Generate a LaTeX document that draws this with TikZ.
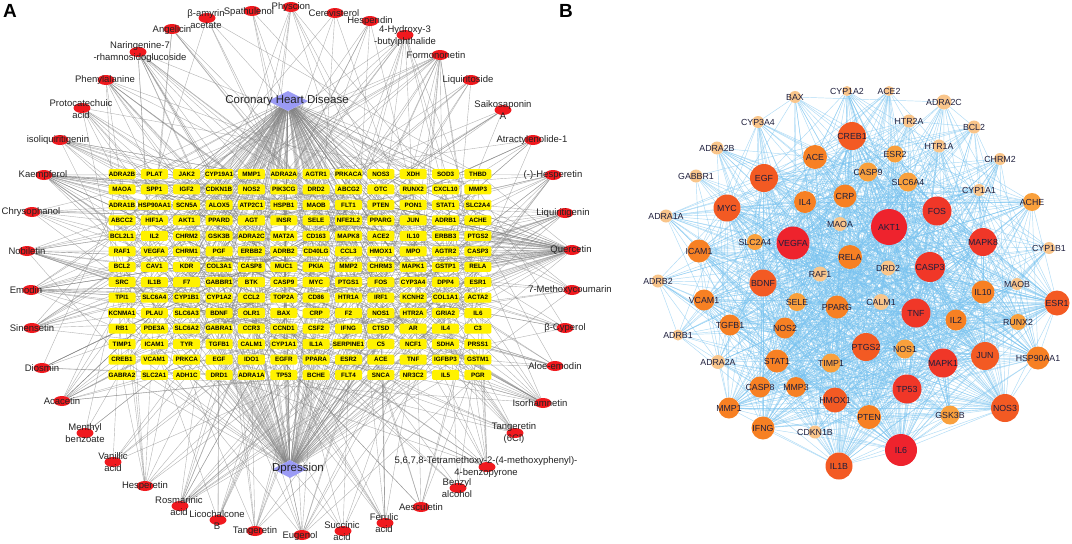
\documentclass[tikz,border=0pt]{standalone}
\usepackage{fontspec}
\setmainfont{Liberation Sans}
\usetikzlibrary{shapes.geometric}
\pgfdeclarelayer{bg}
\pgfdeclarelayer{edgelayer}
\pgfsetlayers{bg,edgelayer,main}
\definecolor{dgnblue}{RGB}{155,155,245}
\definecolor{cmpred}{RGB}{240,25,30}
\definecolor{agray}{RGB}{130,130,130}
\definecolor{bblue}{RGB}{120,195,240}
\definecolor{bcol1}{RGB}{249,197,138}
\definecolor{bcol2}{RGB}{249,160,60}
\definecolor{bcol3}{RGB}{247,128,35}
\definecolor{bcol4}{RGB}{243,90,35}
\definecolor{bcol5}{RGB}{240,55,40}
\definecolor{bcol6}{RGB}{238,35,45}
\definecolor{labtxt}{RGB}{35,35,35}
\definecolor{blabtxt}{RGB}{30,30,60}
\newcommand\cmpd[6]{%
  \node[cmp] (#1) at (#2,#3) {};
  \node[clab] (#1l) at (#4,#5) {#6};}
\begin{document}
\begin{tikzpicture}[x=1pt,y=-1pt,
  tbox/.style={rectangle, rounded corners=1.5pt, fill=yellow, minimum width=27pt, minimum height=10pt, inner sep=0.3pt, font=\bfseries\fontsize{6.3}{6.3}\selectfont, text=black},
  cmp/.style={ellipse, fill=cmpred, minimum width=17pt, minimum height=10pt, inner sep=0pt},
  clab/.style={font=\fontsize{9.5}{12.5}\selectfont, text=labtxt, align=center, inner sep=0pt},
  dia/.style={diamond, fill=dgnblue, inner sep=0pt},
  dlab/.style={font=\fontsize{11.5}{12}\selectfont, text=labtxt, inner sep=0pt},
  plab/.style={font=\bfseries\fontsize{19}{19}\selectfont, inner sep=0pt},
  aedge/.style={draw=agray, line width=0.4pt, opacity=0.6},
  bedge/.style={draw=bblue, line width=0.45pt, opacity=0.6},
  bnode/.style={circle, inner sep=0pt},
  blab/.style={font=\fontsize{8.8}{9}\selectfont, text=blabtxt, inner sep=0pt}]
\useasboundingbox (0,0) rectangle (1072,544);
\begin{pgfonlayer}{bg}
\fill[white] (0,0) rectangle (1072,544);
\end{pgfonlayer}

\node[plab] (pA) at (10,11) {A};
\node[plab] (pB) at (566,11) {B};

% ---------- Panel A: targets grid ----------
\foreach \row [count=\r] in {%
{ADRA2B,PLAT,JAK2,CYP19A1,MMP1,ADRA2A,AGTR1,PRKACA,NOS3,XDH,SOD3,THBD},
{MAOA,SPP1,IGF2,CDKN1B,NOS2,PIK3CG,DRD2,ABCG2,OTC,RUNX2,CXCL10,MMP3},
{ADRA1B,HSP90AA1,SCN5A,ALOX5,ATP2C1,HSPB1,MAOB,FLT1,PTEN,PON1,STAT1,SLC2A4},
{ABCC2,HIF1A,AKT1,PPARD,AGT,INSR,SELE,NFE2L2,PPARG,JUN,ADRB1,ACHE},
{BCL2L1,IL2,CHRM2,GSK3B,ADRA2C,MAT2A,CD163,MAPK8,ACE2,IL10,ERBB3,PTGS2},
{RAF1,VEGFA,CHRM1,PGF,ERBB2,ADRB2,CD40LG,CCL3,HMOX1,MPO,AGTR2,CASP3},
{BCL2,CAV1,KDR,COL3A1,CASP8,MUC1,PKIA,MMP2,CHRM3,MAPK1,GSTP1,RELA},
{SRC,IL1B,F7,GABBR1,BTK,CASP9,MYC,PTGS1,FOS,CYP3A4,DPP4,ESR1},
{TPI1,SLC6A4,CYP1B1,CYP1A2,CCL2,TOP2A,CD86,HTR1A,IRF1,KCNH2,COL1A1,ACTA2},
{KCNMA1,PLAU,SLC6A3,BDNF,OLR1,BAX,CRP,F2,NOS1,HTR2A,GRIA2,IL6},
{RB1,PDE3A,SLC6A2,GABRA1,CCR3,CCND1,CSF2,IFNG,CTSD,AR,IL4,C3},
{TIMP1,ICAM1,TYR,TGFB1,CALM1,CYP1A1,IL1A,SERPINE1,C5,NCF1,SDHA,PRSS1},
{CREB1,VCAM1,PRKCA,EGF,IDO1,EGFR,PPARA,ESR2,ACE,TNF,IGFBP3,GSTM1},
{GABRA2,SLC2A1,ADH1C,DRD1,ADRA1A,TP53,BCHE,FLT4,SNCA,NR3C2,IL5,PGR}} {
  \foreach \g [count=\c] in \row {
    \pgfmathtruncatemacro\id{(\r-1)*12+\c}
    \node[tbox] (t\id) at ({122+(\c-1)*32.36},{174+(\r-1)*15.46}) {\g};
  }
}

% ---------- Panel A: diseases ----------
\node[dia, minimum width=40pt, minimum height=20pt] (chd) at (288,101) {};
\node[dlab] (chdl) at (287,101) {Coronary Heart Disease};
\node[dia, minimum width=34pt, minimum height=18pt] (dep) at (290,469) {};
\node[dlab] (depl) at (298,469) {Dpression};

% ---------- Panel A: compounds ----------
\cmpd{k1}{172}{29}{172}{30}{Angelicin}
\cmpd{k2}{207}{18}{206}{19}{β-amyrin\\acetate}
\cmpd{k3}{252}{11}{249}{12}{Spathulenol}
\cmpd{k4}{291}{7}{291}{7}{Physcion}
\cmpd{k5}{335}{13}{334}{13}{Cerevisterol}
\cmpd{k6}{370}{21}{370}{21}{Hespendin}
\cmpd{k7}{405}{35}{405}{36}{4-Hydroxy-3\\-butylphthalide}
\cmpd{k8}{440}{55}{436}{55}{Formononetin}
\cmpd{k9}{471}{80}{468}{80}{Liquiritoside}
\cmpd{k10}{503}{110}{503}{110}{Saikosaponin\\A}
\cmpd{k11}{533}{140}{532}{140}{Atractylenolide-1}
\cmpd{k12}{553}{175}{553}{175}{(-)-Hesperetin}
\cmpd{k13}{565}{213}{563}{213}{Liquiritigenin}
\cmpd{k14}{572}{250}{571}{250}{Quercetin}
\cmpd{k15}{572}{290}{570}{290}{7-Methoxycoumarin}
\cmpd{k16}{565}{328}{565}{328}{β-Cyperol}
\cmpd{k17}{555}{366}{555}{366}{Aloe-emodin}
\cmpd{k18}{543}{403}{540}{403}{Isorhamnetin}
\cmpd{k19}{515}{433}{514}{433}{Tangeretin\\(6Cl)}
\cmpd{k20}{487}{467}{486}{467}{5,6,7,8-Tetramethoxy-2-(4-methoxyphenyl)-\\4-benzopyrone}
\cmpd{k21}{458}{488}{457}{488}{Benzyl\\alcohol}
\cmpd{k22}{421}{507}{421}{507}{Aesculetin}
\cmpd{k23}{385}{523}{384}{523}{Ferulic\\acid}
\cmpd{k24}{343}{531}{342}{531}{Succinic\\acid}
\cmpd{k25}{302}{535}{300}{536}{Eugenol}
\cmpd{k26}{255}{531}{255}{531}{Tangeretin}
\cmpd{k27}{218}{520}{217}{520}{Licochalcone\\B}
\cmpd{k28}{180}{506}{179}{506}{Rosmarinic\\acid}
\cmpd{k29}{145}{486}{145}{486}{Hesperetin}
\cmpd{k30}{113}{462}{113}{462}{Vanillic\\acid}
\cmpd{k31}{85}{433}{85}{433}{Menthyl\\benzoate}
\cmpd{k32}{62}{401}{62}{401}{Acacetin}
\cmpd{k33}{42}{368}{42}{368}{Diosmin}
\cmpd{k34}{32}{328}{32}{328}{Sinensetin}
\cmpd{k35}{31}{290}{26}{290}{Emodin}
\cmpd{k36}{27}{251}{27}{251}{Nobiletin}
\cmpd{k37}{32}{212}{31}{212}{Chrysophanol}
\cmpd{k38}{44}{175}{43}{175}{Kaempferol}
\cmpd{k39}{60}{140}{58}{140}{isoliquiritigenin}
\cmpd{k40}{82}{108}{81}{109}{Protocatechuic\\acid}
\cmpd{k41}{106}{80}{105}{80}{Phenylalanine}
\cmpd{k42}{138}{52}{140}{52}{Naringenine-7\\-rhamnosidoglucoside}

% ---------- Panel A: edges ----------
\begin{pgfonlayer}{edgelayer}
\pgfmathsetseed{11}
\foreach \t in {1,...,168}{
  \pgfmathtruncatemacro\ok{rnd<0.75}
  \ifnum\ok=1 \draw[aedge] (chd) -- (t\t); \fi
  \pgfmathtruncatemacro\ok{rnd<0.55}
  \ifnum\ok=1 \draw[aedge] (dep) -- (t\t); \fi
}
\foreach \cc/\kk in {k1/6,k2/5,k3/4,k4/8,k5/4,k6/6,k7/13,k8/18,k9/6,k10/6,k11/8,k12/13,k13/15,k14/55,k15/8,k16/8,k17/10,k18/18,k19/10,k20/13,k21/5,k22/8,k23/10,k24/6,k25/13,k26/10,k27/8,k28/15,k29/10,k30/6,k31/4,k32/15,k33/8,k34/13,k35/19,k36/18,k37/10,k38/25,k39/13,k40/10,k41/13,k42/15}{
  \foreach \m in {1,...,\kk}{
    \pgfmathrandominteger{\tt}{1}{168}
    \draw[aedge] (\cc) -- (t\tt);
  }
}
\end{pgfonlayer}

% ---------- Panel B ----------
\def\blist{BAX/795/97/12/1,CYP1A2/847/91/10/1,ACE2/889/91/10/1,ADRA2C/944/102/15/1,CYP3A4/758/122/12/1,HTR2A/909/121/13/1,BCL2/974/127/13/1,ADRA2B/717/148/13/1,CREB1/852/136/28/4,ESR2/895/154/17/2,HTR1A/939/146/13/1,CHRM2/1000/159/12/1,ACE/815/157/24/3,GABBR1/696/176/13/1,EGF/764/178/28/4,CASP9/868/172/19/2,SLC6A4/908/182/19/2,CYP1A1/979/190/12/1,ACHE/1032/202/18/2,ADRA1A/666/216/13/1,MYC/727/208/27/4,IL4/805/202/22/3,CRP/845/196/23/3,FOS/937/211/29/5,MAOA/840/224/14/1,AKT1/889/227/36/6,ICAM1/699/251/23/3,SLC2A4/755/242/16/2,VEGFA/793/243/33/6,MAPK8/983/242/28/5,CYP1B1/1049/248/12/1,RELA/850/257/24/3,DRD2/888/268/15/1,CASP3/930/267/30/5,RAF1/820/274/15/1,ADRB2/658/281/13/1,BDNF/763/283/27/4,VCAM1/704/300/21/3,SELE/797/302/18/2,MAOB/1017/284/12/1,IL10/983/292/23/3,ESR1/1057/303/25/4,TGFB1/730/325/21/3,NOS2/785/328/21/3,ADRB1/678/335/11/1,PPARG/837/307/23/3,CALM1/881/302/16/1,TNF/916/313/29/5,IL2/956/320/21/3,RUNX2/1018/322/16/2,ADRA2A/718/362/14/1,STAT1/777/361/23/3,PTGS2/866/347/28/4,NOS1/905/349/19/2,MAPK1/943/363/29/5,JUN/985/356/28/4,HSP90AA1/1038/358/23/3,TIMP1/831/363/19/2,CASP8/760/387/21/3,MMP3/796/387/20/3,TP53/907/389/29/5,HMOX1/835/400/25/4,MMP1/729/408/21/3,PTEN/869/417/24/3,GSK3B/950/415/19/2,NOS3/1005/408/28/4,IFNG/763/428/23/3,CDKN1B/815/432/13/1,IL6/901/450/32/6,IL1B/839/466/27/4}
\foreach \n/\x/\y/\d/\w [count=\i] in \blist {
  \node[bnode, fill=bcol\w, minimum size=\d pt] (b\i) at (\x,\y) {};
  \expandafter\xdef\csname bwt\i\endcsname{\w}
}
\foreach \n/\x/\y/\d/\w [count=\i] in \blist {
  \node[blab] (bl\i) at (\x,\y) {\n};
}
\begin{pgfonlayer}{edgelayer}
\pgfmathsetseed{5}
\foreach \i in {1,...,69}{
  \pgfmathtruncatemacro\js{\i+1}
  \foreach \j in {\js,...,70}{
    \edef\wa{\csname bwt\i\endcsname}
    \edef\wb{\csname bwt\j\endcsname}
    \pgfmathtruncatemacro\ok{rnd < (\wa+1)*(\wb+1)/26}
    \ifnum\ok=1 \draw[bedge] (b\i) -- (b\j); \fi
  }
}
\end{pgfonlayer}
\end{tikzpicture}
\end{document}
